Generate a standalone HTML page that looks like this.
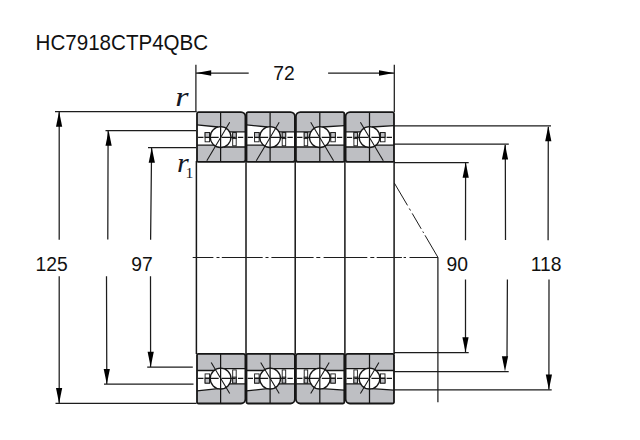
<!DOCTYPE html>
<html lang="en">
<head>
<meta charset="utf-8">
<title>HC7918CTP4QBC</title>
<style>
html,body{margin:0;padding:0;background:#fff;}
body{width:640px;height:440px;overflow:hidden;font-family:'Liberation Sans',sans-serif;}
svg{display:block;}
</style>
</head>
<body>
<svg width="640" height="440" viewBox="0 0 640 440">
<rect x="0" y="0" width="640" height="440" fill="#fff"/>
<path d="M195.9,64.7 L195.9,112 M394.3,64.7 L394.3,112" stroke="#1c1c1c" stroke-width="1.25"/>
<path d="M196,73 L248.7,73 M328.1,73 L394.2,73" stroke="#1c1c1c" stroke-width="1.25"/>
<polygon points="196.2,73 211.2,70.2 211.2,75.8" fill="#000"/>
<polygon points="394.0,73 379.0,70.2 379.0,75.8" fill="#000"/>
<path d="M55,111.5 L196.5,111.5 M105.5,130.5 L196,130.5 M148,147.5 L196,147.5 M55.5,403.25 L196.5,403.25 M104,384.2 L193.5,384.2 M147.2,367 L192.8,367" stroke="#1c1c1c" stroke-width="1.25"/>
<path d="M59.2,112 L59.2,239.7 M59.2,276.2 L59.2,403 M108.1,131 L107.8,239.5 M106.5,276.2 L106.8,384 M151.6,148 L150.6,239.7 M150.5,276.2 L150.6,367" stroke="#1c1c1c" stroke-width="1.25"/>
<polygon points="59.1,111.6 56.0,126.8 62.2,126.8" fill="#000"/>
<polygon points="59.1,403.2 56.0,388.0 62.2,388.0" fill="#000"/>
<polygon points="108.6,130.6 105.5,145.8 111.7,145.8" fill="#000"/>
<polygon points="106.8,384.1 103.7,368.9 109.9,368.9" fill="#000"/>
<polygon points="151.8,147.6 148.7,162.8 154.9,162.8" fill="#000"/>
<polygon points="150.7,366.9 147.6,351.7 153.8,351.7" fill="#000"/>
<path d="M394,125.9 L551,125.9 M394,144.1 L508.8,144.1 M394,162.5 L468.7,162.5 M394,389.8 L551.7,389.8 M394,371.6 L508.7,371.6 M394,352.5 L468.7,352.5" stroke="#1c1c1c" stroke-width="1.25"/>
<path d="M465.6,163 L465.5,240.3 M465.5,279.5 L465.5,352 M505.3,145 L505.5,240 M507.4,279.5 L507,357 M548.3,127 L548.1,240.3 M549,279.5 L548.9,389.5" stroke="#1c1c1c" stroke-width="1.25"/>
<polygon points="465.7,162.6 462.6,177.8 468.8,177.8" fill="#000"/>
<polygon points="465.5,352.4 462.4,337.2 468.6,337.2" fill="#000"/>
<polygon points="505.0,144.2 501.9,159.4 508.1,159.4" fill="#000"/>
<polygon points="505.0,371.5 501.9,356.3 508.1,356.3" fill="#000"/>
<polygon points="548.3,126.0 545.2,141.2 551.4,141.2" fill="#000"/>
<polygon points="548.9,389.7 545.8,374.5 552.0,374.5" fill="#000"/>
<path d="M394.3,183 L407.5,205.4 M409.3,208.5 L410.5,210.5 M412.2,213.4 L421.2,228.8 M422.8,231.5 L423.6,232.9 M425,235.3 L438,257.5" stroke="#1c1c1c" stroke-width="1"/>
<path d="M437.9,257.5 L437.9,402.2" stroke="#1c1c1c" stroke-width="1.25"/>
<path d="M196.4,161 L196.4,354 M246.0,161 L246.0,354 M295.2,161 L295.2,354 M344.9,161 L344.9,354 M394.1,161 L394.1,354" stroke="#161616" stroke-width="1.5"/>
<path d="M192.7,257.5 L213.4,257.5 M216.5,257.5 L219.5,257.5 M221.8,257.5 L262.7,257.5 M265.5,257.5 L268.5,257.5 M271.4,257.5 L313.6,257.5 M316.3,257.5 L320.3,257.5 M323.6,257.5 L367.3,257.5 M370.3,257.5 L374.3,257.5 M376.7,257.5 L401.9,257.5 M403.6,257.5 L406,257.5 M409.5,257.5 L438,257.5" stroke="#1c1c1c" stroke-width="1"/>
<g transform="translate(197.00,112.2)">
<path d="M1.6,0 L44.0,0 A4.4,4.4 0 0 1 48.4,4.4 L48.4,47.5 A2.2,2.2 0 0 1 46.2,49.7 L1.2,49.7 A1.2,1.2 0 0 1 0,48.5 L0,1.6 A1.6,1.6 0 0 1 1.6,0 Z" fill="#fff"/>
<path d="M1.6,0 L44.0,0 A4.4,4.4 0 0 1 48.4,4.4 L48.4,19.6 L23.6,19.6 L23.6,14.7 L0,12.7 L0,1.6 A1.6,1.6 0 0 1 1.6,0 Z" fill="#bebfc3"/>
<path d="M0,33.0 L23.6,33.0 L23.6,34.8 L48.4,34.8 L48.4,47.5 A2.2,2.2 0 0 1 46.2,49.7 L1.2,49.7 A1.2,1.2 0 0 1 0,48.5 Z" fill="#bebfc3"/>
<path d="M0,12.7 L21.1,14.8 M32.0,19.6 L48.4,19.6 M0,33.0 L17.6,33.0 M26.6,34.8 L48.4,34.8" stroke="#161616" stroke-width="1.3" fill="none"/>
<rect x="8.10" y="20.4" width="4.5" height="9.2" fill="#fff" stroke="#161616" stroke-width="0.9"/>
<rect x="8.10" y="20.4" width="4.5" height="5.0" fill="#bebfc3" stroke="#161616" stroke-width="0.9"/>
<rect x="35.70" y="20.4" width="3.5" height="13.2" fill="#fff" stroke="#161616" stroke-width="0.9"/>
<rect x="35.70" y="20.4" width="3.5" height="6.0" fill="#bebfc3" stroke="#161616" stroke-width="0.9"/>
<circle cx="23.6" cy="24.9" r="10.4" fill="#fff" stroke="#161616" stroke-width="1.3"/>
<path d="M23.6,0 L23.6,49.7" stroke="#161616" stroke-width="1.25"/>
<path d="M1.10,25.1 L6.50,25.1 M8.10,25.1 L21.70,25.1 M24.50,25.1 L38.70,25.1 M40.90,25.1 L46.30,25.1" stroke="#161616" stroke-width="1.2"/>
<path d="M32.7,10.1 L9.8,48.5" stroke="#161616" stroke-width="1.05"/>
<path d="M1.6,0 L44.0,0 A4.4,4.4 0 0 1 48.4,4.4 L48.4,47.5 A2.2,2.2 0 0 1 46.2,49.7 L1.2,49.7 A1.2,1.2 0 0 1 0,48.5 L0,1.6 A1.6,1.6 0 0 1 1.6,0 Z" fill="none" stroke="#161616" stroke-width="1.8" stroke-linejoin="round"/>
</g>
<g transform="translate(0,515.7) scale(1,-1) translate(197.00,112.2)">
<path d="M1.6,0 L44.0,0 A4.4,4.4 0 0 1 48.4,4.4 L48.4,47.5 A2.2,2.2 0 0 1 46.2,49.7 L1.2,49.7 A1.2,1.2 0 0 1 0,48.5 L0,1.6 A1.6,1.6 0 0 1 1.6,0 Z" fill="#fff"/>
<path d="M1.6,0 L44.0,0 A4.4,4.4 0 0 1 48.4,4.4 L48.4,19.6 L23.6,19.6 L23.6,14.7 L0,12.7 L0,1.6 A1.6,1.6 0 0 1 1.6,0 Z" fill="#bebfc3"/>
<path d="M0,33.0 L23.6,33.0 L23.6,34.8 L48.4,34.8 L48.4,47.5 A2.2,2.2 0 0 1 46.2,49.7 L1.2,49.7 A1.2,1.2 0 0 1 0,48.5 Z" fill="#bebfc3"/>
<path d="M0,12.7 L21.1,14.8 M32.0,19.6 L48.4,19.6 M0,33.0 L17.6,33.0 M26.6,34.8 L48.4,34.8" stroke="#161616" stroke-width="1.3" fill="none"/>
<rect x="8.10" y="20.4" width="4.5" height="9.2" fill="#fff" stroke="#161616" stroke-width="0.9"/>
<rect x="8.10" y="20.4" width="4.5" height="5.0" fill="#bebfc3" stroke="#161616" stroke-width="0.9"/>
<rect x="35.70" y="20.4" width="3.5" height="13.2" fill="#fff" stroke="#161616" stroke-width="0.9"/>
<rect x="35.70" y="20.4" width="3.5" height="6.0" fill="#bebfc3" stroke="#161616" stroke-width="0.9"/>
<circle cx="23.6" cy="24.9" r="10.4" fill="#fff" stroke="#161616" stroke-width="1.3"/>
<path d="M23.6,0 L23.6,49.7" stroke="#161616" stroke-width="1.25"/>
<path d="M1.10,25.1 L6.50,25.1 M8.10,25.1 L21.70,25.1 M24.50,25.1 L38.70,25.1 M40.90,25.1 L46.30,25.1" stroke="#161616" stroke-width="1.2"/>
<path d="M32.7,10.1 L14.2,40.9" stroke="#161616" stroke-width="1.05"/>
<path d="M1.6,0 L44.0,0 A4.4,4.4 0 0 1 48.4,4.4 L48.4,47.5 A2.2,2.2 0 0 1 46.2,49.7 L1.2,49.7 A1.2,1.2 0 0 1 0,48.5 L0,1.6 A1.6,1.6 0 0 1 1.6,0 Z" fill="none" stroke="#161616" stroke-width="1.8" stroke-linejoin="round"/>
</g>
<g transform="translate(246.50,112.2)">
<path d="M1.6,0 L44.0,0 A4.4,4.4 0 0 1 48.4,4.4 L48.4,47.5 A2.2,2.2 0 0 1 46.2,49.7 L1.2,49.7 A1.2,1.2 0 0 1 0,48.5 L0,1.6 A1.6,1.6 0 0 1 1.6,0 Z" fill="#fff"/>
<path d="M1.6,0 L44.0,0 A4.4,4.4 0 0 1 48.4,4.4 L48.4,19.6 L23.6,19.6 L23.6,14.7 L0,12.7 L0,1.6 A1.6,1.6 0 0 1 1.6,0 Z" fill="#bebfc3"/>
<path d="M0,33.0 L23.6,33.0 L23.6,34.8 L48.4,34.8 L48.4,47.5 A2.2,2.2 0 0 1 46.2,49.7 L1.2,49.7 A1.2,1.2 0 0 1 0,48.5 Z" fill="#bebfc3"/>
<path d="M0,12.7 L21.1,14.8 M32.0,19.6 L48.4,19.6 M0,33.0 L17.6,33.0 M26.6,34.8 L48.4,34.8" stroke="#161616" stroke-width="1.3" fill="none"/>
<rect x="8.10" y="20.4" width="4.5" height="9.2" fill="#fff" stroke="#161616" stroke-width="0.9"/>
<rect x="8.10" y="20.4" width="4.5" height="5.0" fill="#bebfc3" stroke="#161616" stroke-width="0.9"/>
<rect x="35.70" y="20.4" width="3.5" height="13.2" fill="#fff" stroke="#161616" stroke-width="0.9"/>
<rect x="35.70" y="20.4" width="3.5" height="6.0" fill="#bebfc3" stroke="#161616" stroke-width="0.9"/>
<circle cx="23.6" cy="24.9" r="10.4" fill="#fff" stroke="#161616" stroke-width="1.3"/>
<path d="M23.6,0 L23.6,49.7" stroke="#161616" stroke-width="1.25"/>
<path d="M1.10,25.1 L6.50,25.1 M8.10,25.1 L21.70,25.1 M24.50,25.1 L38.70,25.1 M40.90,25.1 L46.30,25.1" stroke="#161616" stroke-width="1.2"/>
<path d="M32.7,10.1 L9.8,48.5" stroke="#161616" stroke-width="1.05"/>
<path d="M1.6,0 L44.0,0 A4.4,4.4 0 0 1 48.4,4.4 L48.4,47.5 A2.2,2.2 0 0 1 46.2,49.7 L1.2,49.7 A1.2,1.2 0 0 1 0,48.5 L0,1.6 A1.6,1.6 0 0 1 1.6,0 Z" fill="none" stroke="#161616" stroke-width="1.8" stroke-linejoin="round"/>
</g>
<g transform="translate(0,515.7) scale(1,-1) translate(246.50,112.2)">
<path d="M1.6,0 L44.0,0 A4.4,4.4 0 0 1 48.4,4.4 L48.4,47.5 A2.2,2.2 0 0 1 46.2,49.7 L1.2,49.7 A1.2,1.2 0 0 1 0,48.5 L0,1.6 A1.6,1.6 0 0 1 1.6,0 Z" fill="#fff"/>
<path d="M1.6,0 L44.0,0 A4.4,4.4 0 0 1 48.4,4.4 L48.4,19.6 L23.6,19.6 L23.6,14.7 L0,12.7 L0,1.6 A1.6,1.6 0 0 1 1.6,0 Z" fill="#bebfc3"/>
<path d="M0,33.0 L23.6,33.0 L23.6,34.8 L48.4,34.8 L48.4,47.5 A2.2,2.2 0 0 1 46.2,49.7 L1.2,49.7 A1.2,1.2 0 0 1 0,48.5 Z" fill="#bebfc3"/>
<path d="M0,12.7 L21.1,14.8 M32.0,19.6 L48.4,19.6 M0,33.0 L17.6,33.0 M26.6,34.8 L48.4,34.8" stroke="#161616" stroke-width="1.3" fill="none"/>
<rect x="8.10" y="20.4" width="4.5" height="9.2" fill="#fff" stroke="#161616" stroke-width="0.9"/>
<rect x="8.10" y="20.4" width="4.5" height="5.0" fill="#bebfc3" stroke="#161616" stroke-width="0.9"/>
<rect x="35.70" y="20.4" width="3.5" height="13.2" fill="#fff" stroke="#161616" stroke-width="0.9"/>
<rect x="35.70" y="20.4" width="3.5" height="6.0" fill="#bebfc3" stroke="#161616" stroke-width="0.9"/>
<circle cx="23.6" cy="24.9" r="10.4" fill="#fff" stroke="#161616" stroke-width="1.3"/>
<path d="M23.6,0 L23.6,49.7" stroke="#161616" stroke-width="1.25"/>
<path d="M1.10,25.1 L6.50,25.1 M8.10,25.1 L21.70,25.1 M24.50,25.1 L38.70,25.1 M40.90,25.1 L46.30,25.1" stroke="#161616" stroke-width="1.2"/>
<path d="M32.7,10.1 L14.2,40.9" stroke="#161616" stroke-width="1.05"/>
<path d="M1.6,0 L44.0,0 A4.4,4.4 0 0 1 48.4,4.4 L48.4,47.5 A2.2,2.2 0 0 1 46.2,49.7 L1.2,49.7 A1.2,1.2 0 0 1 0,48.5 L0,1.6 A1.6,1.6 0 0 1 1.6,0 Z" fill="none" stroke="#161616" stroke-width="1.8" stroke-linejoin="round"/>
</g>
<g transform="translate(295.90,112.2) translate(48.4,0) scale(-1,1)">
<path d="M1.6,0 L44.0,0 A4.4,4.4 0 0 1 48.4,4.4 L48.4,47.5 A2.2,2.2 0 0 1 46.2,49.7 L1.2,49.7 A1.2,1.2 0 0 1 0,48.5 L0,1.6 A1.6,1.6 0 0 1 1.6,0 Z" fill="#fff"/>
<path d="M1.6,0 L44.0,0 A4.4,4.4 0 0 1 48.4,4.4 L48.4,19.6 L24.5,19.6 L24.5,14.7 L0,13.4 L0,1.6 A1.6,1.6 0 0 1 1.6,0 Z" fill="#bebfc3"/>
<path d="M0,33.0 L24.5,33.0 L24.5,34.8 L48.4,34.8 L48.4,47.5 A2.2,2.2 0 0 1 46.2,49.7 L1.2,49.7 A1.2,1.2 0 0 1 0,48.5 Z" fill="#bebfc3"/>
<path d="M0,13.4 L22.0,14.8 M32.9,19.6 L48.4,19.6 M0,33.0 L18.5,33.0 M27.5,34.8 L48.4,34.8" stroke="#161616" stroke-width="1.3" fill="none"/>
<rect x="9.00" y="20.4" width="4.5" height="9.2" fill="#fff" stroke="#161616" stroke-width="0.9"/>
<rect x="9.00" y="20.4" width="4.5" height="5.0" fill="#bebfc3" stroke="#161616" stroke-width="0.9"/>
<rect x="36.60" y="20.4" width="3.5" height="13.2" fill="#fff" stroke="#161616" stroke-width="0.9"/>
<rect x="36.60" y="20.4" width="3.5" height="6.0" fill="#bebfc3" stroke="#161616" stroke-width="0.9"/>
<circle cx="24.5" cy="24.9" r="10.4" fill="#fff" stroke="#161616" stroke-width="1.3"/>
<path d="M24.5,0 L24.5,49.7" stroke="#161616" stroke-width="1.25"/>
<path d="M2.00,25.1 L7.40,25.1 M9.00,25.1 L22.60,25.1 M25.40,25.1 L39.60,25.1 M41.80,25.1 L47.20,25.1" stroke="#161616" stroke-width="1.2"/>
<path d="M33.6,10.1 L10.7,48.5" stroke="#161616" stroke-width="1.05"/>
<path d="M1.6,0 L44.0,0 A4.4,4.4 0 0 1 48.4,4.4 L48.4,47.5 A2.2,2.2 0 0 1 46.2,49.7 L1.2,49.7 A1.2,1.2 0 0 1 0,48.5 L0,1.6 A1.6,1.6 0 0 1 1.6,0 Z" fill="none" stroke="#161616" stroke-width="1.8" stroke-linejoin="round"/>
</g>
<g transform="translate(0,515.7) scale(1,-1) translate(295.90,112.2) translate(48.4,0) scale(-1,1)">
<path d="M1.6,0 L44.0,0 A4.4,4.4 0 0 1 48.4,4.4 L48.4,47.5 A2.2,2.2 0 0 1 46.2,49.7 L1.2,49.7 A1.2,1.2 0 0 1 0,48.5 L0,1.6 A1.6,1.6 0 0 1 1.6,0 Z" fill="#fff"/>
<path d="M1.6,0 L44.0,0 A4.4,4.4 0 0 1 48.4,4.4 L48.4,19.6 L24.5,19.6 L24.5,14.7 L0,13.4 L0,1.6 A1.6,1.6 0 0 1 1.6,0 Z" fill="#bebfc3"/>
<path d="M0,33.0 L24.5,33.0 L24.5,34.8 L48.4,34.8 L48.4,47.5 A2.2,2.2 0 0 1 46.2,49.7 L1.2,49.7 A1.2,1.2 0 0 1 0,48.5 Z" fill="#bebfc3"/>
<path d="M0,13.4 L22.0,14.8 M32.9,19.6 L48.4,19.6 M0,33.0 L18.5,33.0 M27.5,34.8 L48.4,34.8" stroke="#161616" stroke-width="1.3" fill="none"/>
<rect x="9.00" y="20.4" width="4.5" height="9.2" fill="#fff" stroke="#161616" stroke-width="0.9"/>
<rect x="9.00" y="20.4" width="4.5" height="5.0" fill="#bebfc3" stroke="#161616" stroke-width="0.9"/>
<rect x="36.60" y="20.4" width="3.5" height="13.2" fill="#fff" stroke="#161616" stroke-width="0.9"/>
<rect x="36.60" y="20.4" width="3.5" height="6.0" fill="#bebfc3" stroke="#161616" stroke-width="0.9"/>
<circle cx="24.5" cy="24.9" r="10.4" fill="#fff" stroke="#161616" stroke-width="1.3"/>
<path d="M24.5,0 L24.5,49.7" stroke="#161616" stroke-width="1.25"/>
<path d="M2.00,25.1 L7.40,25.1 M9.00,25.1 L22.60,25.1 M25.40,25.1 L39.60,25.1 M41.80,25.1 L47.20,25.1" stroke="#161616" stroke-width="1.2"/>
<path d="M33.6,10.1 L15.1,40.9" stroke="#161616" stroke-width="1.05"/>
<path d="M1.6,0 L44.0,0 A4.4,4.4 0 0 1 48.4,4.4 L48.4,47.5 A2.2,2.2 0 0 1 46.2,49.7 L1.2,49.7 A1.2,1.2 0 0 1 0,48.5 L0,1.6 A1.6,1.6 0 0 1 1.6,0 Z" fill="none" stroke="#161616" stroke-width="1.8" stroke-linejoin="round"/>
</g>
<g transform="translate(345.60,112.2) translate(48.4,0) scale(-1,1)">
<path d="M1.6,0 L44.0,0 A4.4,4.4 0 0 1 48.4,4.4 L48.4,47.5 A2.2,2.2 0 0 1 46.2,49.7 L1.2,49.7 A1.2,1.2 0 0 1 0,48.5 L0,1.6 A1.6,1.6 0 0 1 1.6,0 Z" fill="#fff"/>
<path d="M1.6,0 L44.0,0 A4.4,4.4 0 0 1 48.4,4.4 L48.4,19.6 L24.5,19.6 L24.5,14.7 L0,13.4 L0,1.6 A1.6,1.6 0 0 1 1.6,0 Z" fill="#bebfc3"/>
<path d="M0,33.0 L24.5,33.0 L24.5,34.8 L48.4,34.8 L48.4,47.5 A2.2,2.2 0 0 1 46.2,49.7 L1.2,49.7 A1.2,1.2 0 0 1 0,48.5 Z" fill="#bebfc3"/>
<path d="M0,13.4 L22.0,14.8 M32.9,19.6 L48.4,19.6 M0,33.0 L18.5,33.0 M27.5,34.8 L48.4,34.8" stroke="#161616" stroke-width="1.3" fill="none"/>
<rect x="9.00" y="20.4" width="4.5" height="9.2" fill="#fff" stroke="#161616" stroke-width="0.9"/>
<rect x="9.00" y="20.4" width="4.5" height="5.0" fill="#bebfc3" stroke="#161616" stroke-width="0.9"/>
<rect x="36.60" y="20.4" width="3.5" height="13.2" fill="#fff" stroke="#161616" stroke-width="0.9"/>
<rect x="36.60" y="20.4" width="3.5" height="6.0" fill="#bebfc3" stroke="#161616" stroke-width="0.9"/>
<circle cx="24.5" cy="24.9" r="10.4" fill="#fff" stroke="#161616" stroke-width="1.3"/>
<path d="M24.5,0 L24.5,49.7" stroke="#161616" stroke-width="1.25"/>
<path d="M2.00,25.1 L7.40,25.1 M9.00,25.1 L22.60,25.1 M25.40,25.1 L39.60,25.1 M41.80,25.1 L47.20,25.1" stroke="#161616" stroke-width="1.2"/>
<path d="M33.6,10.1 L10.7,48.5" stroke="#161616" stroke-width="1.05"/>
<path d="M1.6,0 L44.0,0 A4.4,4.4 0 0 1 48.4,4.4 L48.4,47.5 A2.2,2.2 0 0 1 46.2,49.7 L1.2,49.7 A1.2,1.2 0 0 1 0,48.5 L0,1.6 A1.6,1.6 0 0 1 1.6,0 Z" fill="none" stroke="#161616" stroke-width="1.8" stroke-linejoin="round"/>
</g>
<g transform="translate(0,515.7) scale(1,-1) translate(345.60,112.2) translate(48.4,0) scale(-1,1)">
<path d="M1.6,0 L44.0,0 A4.4,4.4 0 0 1 48.4,4.4 L48.4,47.5 A2.2,2.2 0 0 1 46.2,49.7 L1.2,49.7 A1.2,1.2 0 0 1 0,48.5 L0,1.6 A1.6,1.6 0 0 1 1.6,0 Z" fill="#fff"/>
<path d="M1.6,0 L44.0,0 A4.4,4.4 0 0 1 48.4,4.4 L48.4,19.6 L24.5,19.6 L24.5,14.7 L0,13.4 L0,1.6 A1.6,1.6 0 0 1 1.6,0 Z" fill="#bebfc3"/>
<path d="M0,33.0 L24.5,33.0 L24.5,34.8 L48.4,34.8 L48.4,47.5 A2.2,2.2 0 0 1 46.2,49.7 L1.2,49.7 A1.2,1.2 0 0 1 0,48.5 Z" fill="#bebfc3"/>
<path d="M0,13.4 L22.0,14.8 M32.9,19.6 L48.4,19.6 M0,33.0 L18.5,33.0 M27.5,34.8 L48.4,34.8" stroke="#161616" stroke-width="1.3" fill="none"/>
<rect x="9.00" y="20.4" width="4.5" height="9.2" fill="#fff" stroke="#161616" stroke-width="0.9"/>
<rect x="9.00" y="20.4" width="4.5" height="5.0" fill="#bebfc3" stroke="#161616" stroke-width="0.9"/>
<rect x="36.60" y="20.4" width="3.5" height="13.2" fill="#fff" stroke="#161616" stroke-width="0.9"/>
<rect x="36.60" y="20.4" width="3.5" height="6.0" fill="#bebfc3" stroke="#161616" stroke-width="0.9"/>
<circle cx="24.5" cy="24.9" r="10.4" fill="#fff" stroke="#161616" stroke-width="1.3"/>
<path d="M24.5,0 L24.5,49.7" stroke="#161616" stroke-width="1.25"/>
<path d="M2.00,25.1 L7.40,25.1 M9.00,25.1 L22.60,25.1 M25.40,25.1 L39.60,25.1 M41.80,25.1 L47.20,25.1" stroke="#161616" stroke-width="1.2"/>
<path d="M33.6,10.1 L15.1,40.9" stroke="#161616" stroke-width="1.05"/>
<path d="M1.6,0 L44.0,0 A4.4,4.4 0 0 1 48.4,4.4 L48.4,47.5 A2.2,2.2 0 0 1 46.2,49.7 L1.2,49.7 A1.2,1.2 0 0 1 0,48.5 L0,1.6 A1.6,1.6 0 0 1 1.6,0 Z" fill="none" stroke="#161616" stroke-width="1.8" stroke-linejoin="round"/>
</g>
<text x="35.6" y="50" font-family="'Liberation Sans', sans-serif" font-size="21.4" textLength="172.6" lengthAdjust="spacingAndGlyphs" fill="#111">HC7918CTP4QBC</text>
<text x="284.1" y="79.9" text-anchor="middle" font-family="'Liberation Sans', sans-serif" font-size="19.3" fill="#111">72</text>
<text x="51.6" y="270.9" text-anchor="middle" font-family="'Liberation Sans', sans-serif" font-size="19.3" fill="#111">125</text>
<text x="142" y="270.8" text-anchor="middle" font-family="'Liberation Sans', sans-serif" font-size="19.3" fill="#111">97</text>
<text x="457.2" y="270.8" text-anchor="middle" font-family="'Liberation Sans', sans-serif" font-size="19.3" fill="#111">90</text>
<text x="546" y="270.8" text-anchor="middle" font-family="'Liberation Sans', sans-serif" font-size="19.3" fill="#111">118</text>
<text transform="translate(175.2,105.5) scale(1.22,1)" font-family="'Liberation Serif', serif" font-style="italic" font-size="28" fill="#141826">r</text>
<text transform="translate(177,171.8) scale(1.12,1)" font-family="'Liberation Serif', serif" font-style="italic" font-size="27" fill="#141826">r</text>
<text x="185.4" y="178" font-family="'Liberation Serif', serif" font-size="15.6" fill="#141826">1</text>
</svg>
</body>
</html>
